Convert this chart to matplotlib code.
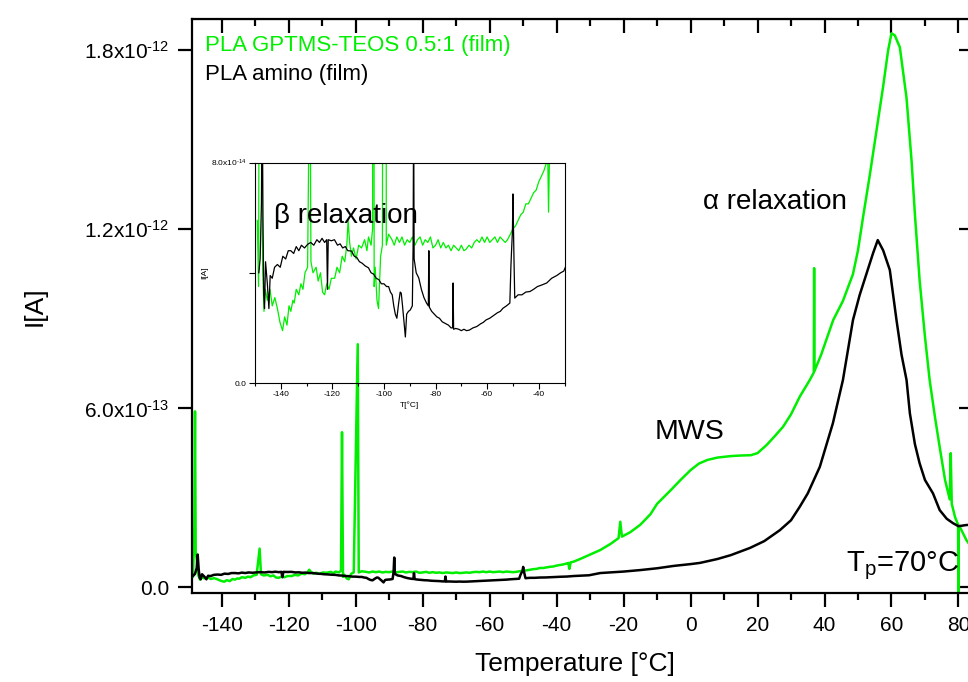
import numpy as np
import matplotlib
matplotlib.use('Agg')
import matplotlib.pyplot as plt

plt.rcParams['font.family'] = ['Liberation Sans', 'DejaVu Sans']
plt.rcParams['mathtext.fontset'] = 'custom'
plt.rcParams['mathtext.rm'] = 'Liberation Sans'
plt.rcParams['mathtext.it'] = 'Liberation Sans:italic'
plt.rcParams['axes.unicode_minus'] = False

# currents are stored in units of 1e-14 A
temp_green = [
    -149.1, -148.6, -148.2, -148.0, -147.8, -147.4, -147.0, -146.5, -146.0, -145.2,
    -144.2, -143.3, -142.3, -141.3, -140.3, -139.3, -138.5, -137.6, -136.8, -136.1,
    -135.3, -134.8, -134.0, -133.0, -132.2, -131.4, -130.6, -129.6, -128.7, -128.3,
    -127.5, -126.3, -125.5, -124.6, -123.8, -123.0, -122.2, -121.3, -120.4, -119.1,
    -118.2, -117.2, -116.2, -115.2, -114.4, -113.9, -113.3, -112.6, -111.8, -110.8,
    -109.8, -108.7, -107.5, -106.6, -106.0, -105.0, -104.4, -104.1, -103.8, -103.4,
    -102.7, -102.1, -101.3, -100.6, -99.4, -99.1, -98.2, -96.9, -96.0, -95.0,
    -94.0, -93.0, -92.0, -91.0, -90.0, -89.0, -88.0, -87.0, -86.0, -85.0,
    -84.0, -83.0, -82.0, -81.0, -80.0, -79.0, -78.0, -77.0, -76.0, -75.0,
    -74.0, -73.0, -72.0, -71.0, -70.0, -69.0, -68.2, -67.0, -66.0, -65.0,
    -64.0, -63.0, -62.0, -61.0, -60.0, -59.0, -58.0, -57.0, -56.0, -55.0,
    -54.0, -53.0, -52.1, -51.0, -50.0, -49.0, -48.0, -47.0, -46.0, -45.0,
    -44.0, -43.0, -42.0, -41.0, -40.0, -39.0, -38.0, -37.0, -36.5, -36.2,
    -35.8, -35.0, -33.0, -30.0, -27.0, -24.0, -21.5, -21.0, -20.5, -18.0,
    -15.0, -12.0, -10.0, -6.0, -3.0, 0.0, 2.5, 5.0, 8.0, 12.0,
    15.0, 18.0, 20.0, 22.7, 25.0, 27.6, 30.0, 32.6, 35.6, 36.8,
    36.9, 37.0, 39.0, 42.6, 45.5, 48.5, 50.0, 51.5, 53.5, 55.5,
    57.5, 59.0, 60.0, 61.0, 62.5, 64.5, 66.0, 67.0, 68.4, 70.0,
    71.4, 73.0, 74.4, 76.0, 77.4, 77.7, 78.0, 79.0, 79.9, 80.0,
    80.1, 80.4, 82.4, 84.5,
]
curr_green = [
    5.9, 3.5, 20.0, 59.0, 12.0, 8.5, 4.0, 2.6, 3.4, 3.0,
    3.4, 2.8, 3.1, 2.7, 2.2, 1.9, 2.4, 2.1, 2.8, 2.6,
    3.0, 2.9, 3.4, 3.2, 3.6, 3.4, 4.0, 4.2, 13.0, 4.4,
    4.0, 4.2, 3.7, 4.0, 3.3, 3.2, 3.6, 3.4, 3.8, 3.8,
    4.2, 4.0, 4.6, 4.4, 5.0, 5.9, 5.1, 4.6, 4.9, 4.5,
    5.0, 4.9, 5.2, 4.8, 5.3, 5.0, 5.6, 52.0, 3.5, 4.2,
    3.0, 2.7, 4.6, 5.0, 81.5, 5.0, 5.4, 5.2, 5.0, 5.3,
    5.1, 5.3, 5.0, 5.2, 5.1, 5.3, 5.0, 5.2, 5.3, 5.0,
    5.2, 5.1, 5.3, 4.9, 5.0, 5.2, 4.9, 5.1, 4.9, 5.0,
    4.8, 5.0, 4.9, 4.8, 5.0, 4.8, 4.85, 5.0, 4.9, 5.1,
    5.2, 5.1, 5.3, 5.1, 5.3, 5.1, 5.2, 5.3, 5.1, 5.3,
    5.2, 5.1, 5.2, 5.4, 5.6, 5.7, 5.9, 6.1, 6.2, 6.5,
    6.5, 6.7, 6.9, 7.0, 7.3, 7.5, 7.7, 8.0, 8.2, 6.2,
    8.4, 8.6, 9.5, 11.0, 12.5, 14.5, 16.5, 22.0, 17.0, 18.5,
    21.0, 24.5, 28.0, 32.5, 36.0, 39.3, 41.5, 42.7, 43.5, 44.0,
    44.2, 44.3, 45.0, 47.7, 50.5, 53.8, 58.0, 63.9, 69.5, 72.0,
    107.0, 72.5, 78.0, 89.6, 96.0, 105.0, 113.0, 124.0, 138.0, 153.0,
    167.8, 180.0, 185.7, 185.0, 181.0, 164.0, 143.0, 125.0, 103.0, 84.0,
    69.5, 57.0, 47.0, 36.0, 29.5, 45.0, 28.0, 23.5, 21.0, -5.0,
    20.3, 20.3, 15.8, 12.5,
]

temp_black = [
    -148.5, -148.0, -147.5, -147.2, -146.9, -146.6, -146.3, -145.9, -145.2, -144.6,
    -144.1, -143.3, -142.4, -141.3, -140.2, -139.2, -138.1, -137.1, -136.1, -135.0,
    -134.0, -133.0, -132.0, -130.8, -129.6, -128.4, -127.2, -126.0, -125.0, -124.0,
    -123.0, -122.2, -121.9, -121.6, -120.4, -119.2, -118.0, -117.0, -116.0, -115.0,
    -114.0, -112.6, -111.5, -110.5, -109.5, -108.5, -107.3, -106.0, -105.0, -104.0,
    -103.0, -102.0, -101.0, -100.0, -99.0, -98.2, -97.5, -96.8, -96.2, -95.6,
    -95.0, -94.3, -93.7, -93.3, -92.8, -92.2, -91.7, -91.2, -90.5, -89.8,
    -89.0, -88.7, -88.5, -88.3, -87.5, -86.5, -85.5, -84.5, -83.5, -82.8,
    -82.6, -82.4, -81.5, -80.5, -79.5, -78.5, -77.4, -76.0, -75.0, -74.0,
    -73.4, -73.2, -73.0, -72.2, -71.0, -70.0, -69.0, -68.0, -66.9, -65.5,
    -64.0, -62.5, -61.5, -60.4, -59.0, -57.5, -56.0, -54.9, -53.9, -52.5,
    -51.2, -50.8, -50.6, -50.2, -50.0, -49.6, -49.3, -48.0, -46.5, -45.0,
    -43.4, -42.0, -40.5, -39.0, -36.9, -35.0, -33.0, -31.5, -30.3, -27.0,
    -20.0, -15.0, -10.0, -5.0, 0.0, 2.8, 8.0, 12.0, 17.7, 22.0,
    26.7, 30.0, 32.6, 35.0, 38.6, 42.5, 45.5, 48.5, 50.5, 52.5,
    54.5, 55.9, 57.5, 59.5, 61.5, 63.0, 64.5, 65.5, 67.0, 68.4,
    70.0, 72.4, 74.4, 76.5, 78.4, 80.0, 82.4, 84.5,
]
curr_black = [
    4.0, 4.5, 6.5, 11.0, 6.0, 3.2, 2.7, 4.4, 3.6, 2.7,
    3.9, 3.8, 4.2, 4.3, 4.2, 4.6, 4.5, 4.8, 4.8, 4.7,
    4.95, 4.8, 5.0, 4.9, 5.03, 5.1, 5.0, 5.2, 5.1, 5.25,
    5.1, 5.2, 3.4, 5.2, 5.16, 5.2, 5.0, 5.05, 4.9, 4.95,
    4.8, 4.79, 4.6, 4.55, 4.4, 4.35, 4.25, 4.18, 4.0, 3.95,
    3.8, 3.75, 3.6, 3.6, 3.5, 3.5, 3.3, 3.2, 2.8, 2.5,
    2.35, 2.9, 3.3, 3.26, 2.8, 2.2, 1.67, 2.5, 2.6, 2.65,
    2.8, 5.0, 10.0, 4.5, 4.0, 3.81, 3.4, 3.1, 2.9, 2.8,
    4.8, 2.75, 2.6, 2.5, 2.4, 2.35, 2.22, 2.15, 2.1, 2.0,
    2.0, 3.63, 1.95, 1.98, 1.95, 1.9, 1.95, 1.9, 1.92, 2.0,
    2.05, 2.15, 2.2, 2.29, 2.35, 2.45, 2.55, 2.6, 2.71, 2.8,
    2.9, 4.2, 4.67, 5.5, 6.86, 4.5, 3.08, 3.2, 3.2, 3.3,
    3.32, 3.4, 3.5, 3.55, 3.63, 3.8, 3.9, 4.0, 4.06, 4.8,
    5.3, 5.8, 6.4, 7.2, 7.8, 8.2, 9.5, 10.8, 13.2, 15.5,
    19.2, 22.5, 27.0, 31.5, 40.4, 55.0, 69.5, 89.6, 98.0, 105.0,
    112.0, 116.4, 113.0, 106.4, 89.6, 78.0, 69.5, 58.3, 48.0, 41.6,
    36.0, 31.5, 25.9, 23.0, 21.5, 20.5, 20.9, 21.0,
]

y_ticks = [0.0, 6e-13, 1.2e-12, 1.8e-12]
y_tick_labels = ['0.0', r'6.0x10$^{\text{-13}}$', r'1.2x10$^{\text{-12}}$', r'1.8x10$^{\text{-12}}$']
x_ticks = [-140, -120, -100, -80, -60, -40, -20, 0, 20, 40, 60, 80]

inset_x_ticks = [-140, -120, -100, -80, -60, -40]
inset_y_ticks = [0.0, 4e-14, 8e-14]
inset_y_labels = ['0.0', '', r'8.0x10$^{\text{-14}}$']

green = '#00ee00'
black = 'black'

tg = np.array(temp_green)
ig = np.array(curr_green) * 1e-14
tb = np.array(temp_black)
ib = np.array(curr_black) * 1e-14

fig = plt.figure(figsize=(9.68, 6.82), dpi=100)
ax = fig.add_axes([0.198, 0.130, 0.807, 0.8417])

ax.plot(tg, ig, color=green, lw=1.8)
ax.plot(tb, ib, color=black, lw=1.8)

ax.set_xlim(-149, 84.3)
ax.set_ylim(-2.0e-14, 1.904e-12)
ax.set_xticks(x_ticks)
ax.set_xticks(np.arange(-140, 85, 10), minor=True)
ax.set_yticks(y_ticks)
ax.set_yticklabels(y_tick_labels)
ax.tick_params(axis='both', which='major', direction='out', length=10, width=1.6, labelsize=15, pad=6)
ax.tick_params(axis='x', which='minor', direction='out', length=5, width=1.6)
for sp in ax.spines.values():
    sp.set_linewidth(1.6)

# top and right axes carry inward ticks only
top = ax.secondary_xaxis('top')
top.set_xticks(x_ticks)
top.set_xticks(np.arange(-140, 85, 10), minor=True)
top.tick_params(which='major', direction='in', length=10, width=1.6, labeltop=False)
top.tick_params(which='minor', direction='in', length=5, width=1.6)
right = ax.secondary_yaxis('right')
right.set_yticks(y_ticks)
right.tick_params(direction='in', length=10, width=1.6, labelright=False)

ax.set_xlabel('Temperature [°C]', fontsize=19)
ax.xaxis.set_label_coords(0.49, -0.102)
ax.set_ylabel('I[A]', fontsize=19, labelpad=27)

ax.text(0.017, 0.955, 'PLA GPTMS-TEOS 0.5:1 (film)', color=green, fontsize=16,
        transform=ax.transAxes, ha='left', va='center')
ax.text(0.017, 0.9035, 'PLA amino (film)', color=black, fontsize=16,
        transform=ax.transAxes, ha='left', va='center')

ax.text(3.7, 1.293e-12, 'α relaxation', fontsize=20, ha='left', va='center')
ax.text(-10.7, 5.22e-13, 'MWS', fontsize=20.5, ha='left', va='center')
ax.text(80.2, 0.72e-13, r'T$_{\mathregular{p}}$=70°C', fontsize=21, ha='right', va='center')

# inset: zoom on the low temperature part
ins = fig.add_axes([0.2634, 0.4384, 0.3198, 0.3233], facecolor='none')
ins.plot(tg, ig, color=green, lw=0.9)
ins.plot(tb, ib, color=black, lw=0.9)
ins.set_xlim(-150, -30)
ins.set_ylim(0, 8e-14)
ins.set_xticks(inset_x_ticks)
ins.set_xticks(np.arange(-150, -29, 10), minor=True)
ins.set_yticks(inset_y_ticks)
ins.set_yticklabels(inset_y_labels)
ins.tick_params(axis='both', which='major', direction='out', length=4, width=0.8, labelsize=6, pad=2)
ins.tick_params(axis='x', which='minor', direction='out', length=2, width=0.8)
for sp in ins.spines.values():
    sp.set_linewidth(0.8)
ins.set_xlabel('T[°C]', fontsize=6, labelpad=2)
ins.set_ylabel('I[A]', fontsize=6, labelpad=2)
ins.text(-142.6, 6.07e-14, 'β relaxation', fontsize=20, ha='left', va='center')

fig.savefig('out.png', dpi=100)
